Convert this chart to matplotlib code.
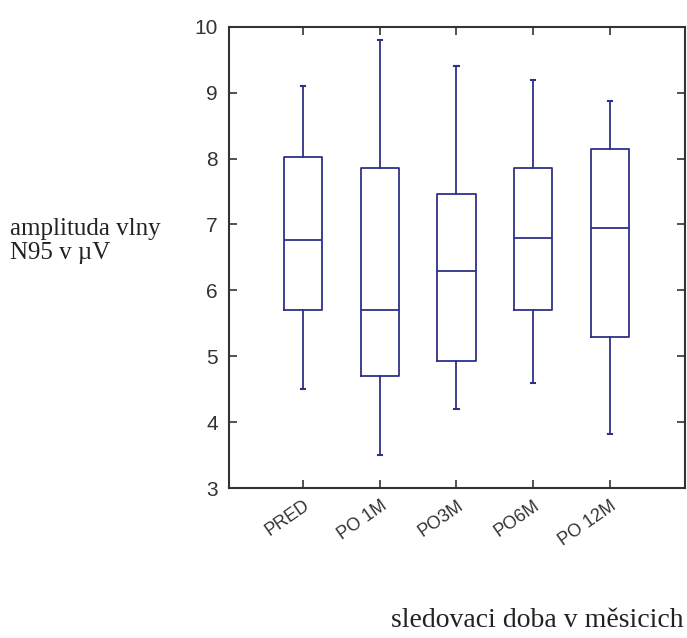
import matplotlib
matplotlib.use("Agg")
import matplotlib.pyplot as plt
from matplotlib.transforms import offset_copy

labels = ["PRED", "PO 1M", "PO3M", "PO6M", "PO 12M"]
whislo = [4.5, 3.5, 4.2, 4.6, 3.82]
q1 = [5.7, 4.7, 4.93, 5.7, 5.3]
med = [6.77, 5.7, 6.3, 6.8, 6.95]
q3 = [8.03, 7.85, 7.47, 7.85, 8.15]
whishi = [9.1, 9.8, 9.4, 9.2, 8.88]

stats = [dict(label=l, whislo=a, q1=b, med=c, q3=d, whishi=e)
         for l, a, b, c, d, e in zip(labels, whislo, q1, med, q3, whishi)]

col = "#30308a"
fig = plt.figure(figsize=(6.87, 6.38), dpi=100)
ax = fig.add_axes([0.333, 0.235, 0.664, 0.723])

pos = list(range(1, 6))
ax.bxp(stats, positions=pos, widths=0.5, showfliers=False,
       boxprops=dict(color=col, lw=1.3),
       whiskerprops=dict(color=col, lw=1.3),
       capprops=dict(color=col, lw=1.5),
       medianprops=dict(color=col, lw=1.3),
       capwidths=0.06)

ax.set_xlim(0.03, 5.98)
ax.set_ylim(3, 10)
ax.set_yticks(range(3, 11))
ax.set_xticks(pos)
ax.set_xticklabels([])
# rotated category labels, shifted a little right of their ticks
trans = offset_copy(ax.get_xaxis_transform(), fig=fig, x=10, y=-9, units="dots")
for p, l in zip(pos, labels):
    ax.text(p, 0, l, transform=trans, rotation=35, ha="right", va="top",
            fontsize=13, color="#333333", family="Liberation Sans")
for t in ax.get_yticklabels():
    t.set_fontsize(15)
    t.set_family("Liberation Sans")
    t.set_color("#333333")
ax.tick_params(direction="in", length=6, width=1.2, top=True, right=True,
               color="#333333")
ax.tick_params(axis="y", pad=8)
for s in ax.spines.values():
    s.set_linewidth(1.5)
    s.set_color("#333333")

fig.text(0.015, 0.623, "amplituda vlny\nN95 v \u00b5V", family="Liberation Serif",
         fontsize=18, va="center", ha="left", color="#222222", linespacing=1.12)
fig.text(0.995, 0.008, "sledovaci doba v m\u011bsicich", family="Liberation Serif",
         fontsize=20, ha="right", va="bottom", color="#222222")

fig.savefig("out.png", dpi=100)
